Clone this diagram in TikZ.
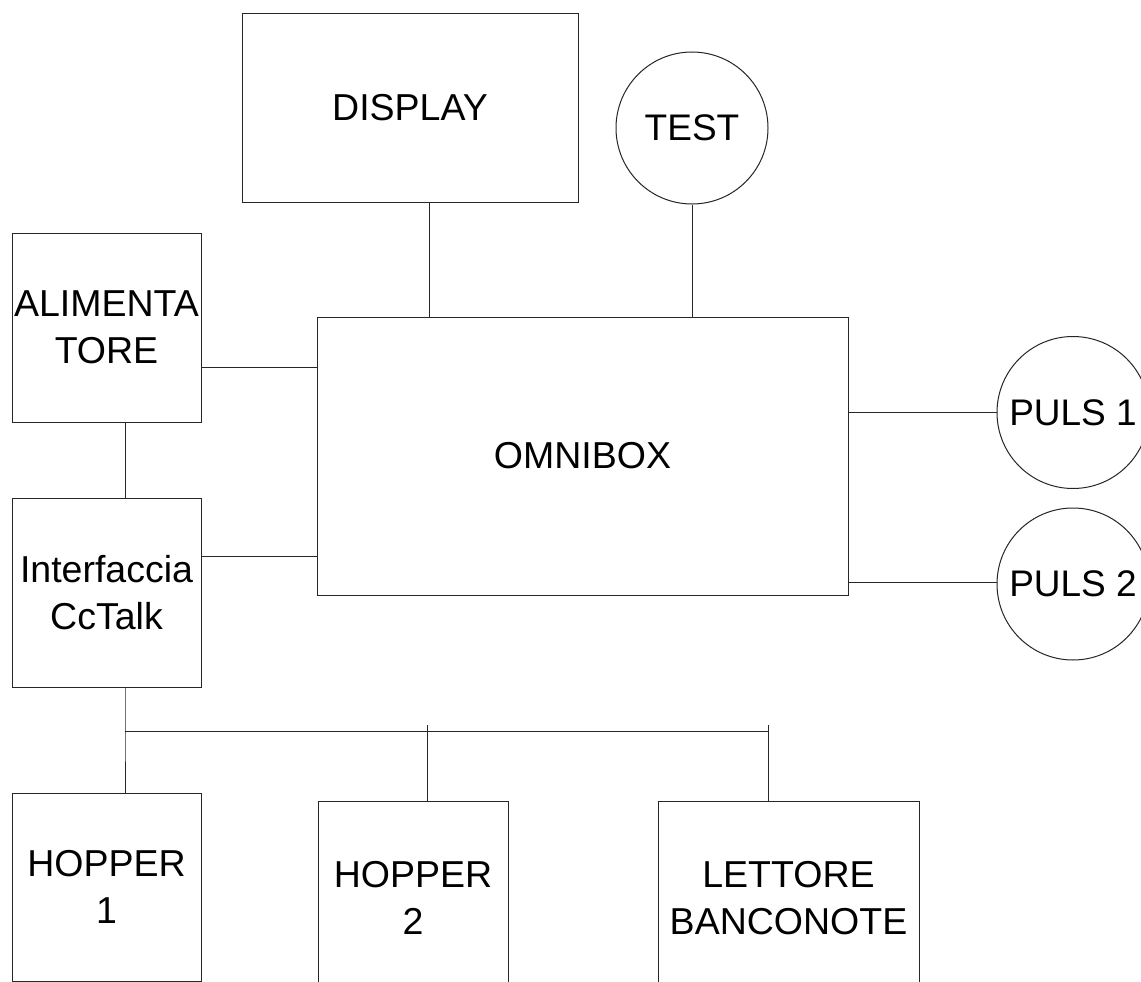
\documentclass[tikz,border=0pt]{standalone}
\usepackage{fontspec}
\setmainfont{Liberation Sans}
\begin{document}
\begin{tikzpicture}[x=1pt,y=-1pt,
  blk/.style={draw=black!85, line width=1pt, rectangle, inner sep=0pt, align=center,
    font=\fontsize{37.5}{46.5}\selectfont, execute at begin node={\vspace*{6pt}}},
  rnd/.style={draw=black!85, line width=1pt, circle, inner sep=0pt, minimum size=152pt, align=center,
    font=\fontsize{37}{46}\selectfont},
  wire/.style={draw=black!85, line width=1pt}]
\clip (0,0) rectangle (1141,982);
\fill[white] (0,0) rectangle (1141,982);

\node[blk, minimum width=336pt, minimum height=188pt] (display) at (410,108) {DISPLAY};
\node[rnd] (test) at (692,128) {TEST};
\node[blk, minimum width=531pt, minimum height=278pt] (omni) at (582.5,456) {OMNIBOX};
\node[blk, minimum width=189pt, minimum height=189pt] (alim) at (106.5,327.5) {ALIMENTA\\TORE};
\node[blk, minimum width=189pt, minimum height=189pt] (iface) at (106.5,592.5) {Interfaccia\\CcTalk};
\node[rnd] (puls1) at (1073,412.5) {PULS 1};
\node[rnd] (puls2) at (1073,584) {PULS 2};
\node[blk, minimum width=189pt, minimum height=188pt] (hop1) at (106.5,887) {HOPPER\\1};
\node[blk, minimum width=190pt, minimum height=194pt] (hop2) at (413,898) {HOPPER\\2};
\node[blk, minimum width=261pt, minimum height=194pt] (lett) at (788.5,898) {LETTORE\\BANCONOTE};

\coordinate (busL) at (125,731);
\coordinate (busR) at (768,731);
\coordinate (t2) at (427.5,725);
\coordinate (t3) at (768,725);

\draw[wire] ([xshift=19pt]display.south) -- ([xshift=19pt]display.south |- omni.north);
\draw[wire] (test.south) -- (test.south |- omni.north);
\draw[wire] ([yshift=-39.5pt]alim.east) -- ([yshift=-39.5pt]alim.east -| omni.west);
\draw[wire] ([yshift=36.5pt]iface.east) -- ([yshift=36.5pt]iface.east -| omni.west);
\draw[wire] ([xshift=18.5pt]alim.south) -- ([xshift=18.5pt]iface.north);
\draw[wire] (puls1.west -| omni.east) -- (puls1.west);
\draw[wire] ([yshift=2pt]puls2.west -| omni.east) -- ([yshift=2pt]puls2.west);
\draw[wire] ([xshift=18.5pt]iface.south) -- (busL) -- ([xshift=18.5pt]hop1.north);
\draw[wire] (busL) -- (busR);
\draw[wire] (t2) -- (t2 |- hop2.north);
\draw[wire] (t3) -- (t3 |- lett.north);
\end{tikzpicture}
\end{document}
